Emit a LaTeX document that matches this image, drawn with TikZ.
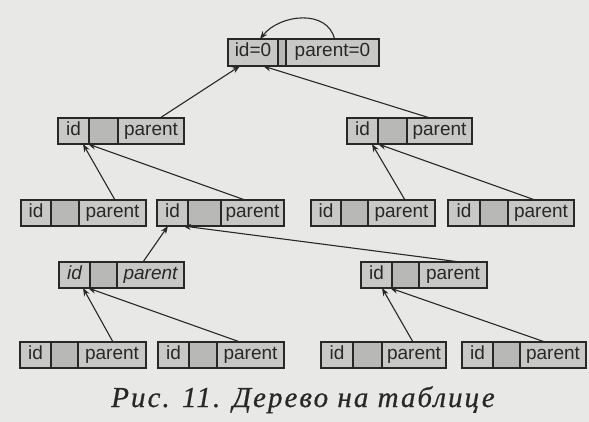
\documentclass[tikz,border=0pt]{standalone}
\usepackage{fontspec}
\setmainfont{Liberation Serif}
\newfontfamily\boxfont{Liberation Sans}
\usetikzlibrary{arrows.meta}
\definecolor{bgcol}{RGB}{232,232,230}
\definecolor{cellgrey}{RGB}{200,200,198}
\definecolor{midgrey}{RGB}{184,184,182}
\definecolor{inkcol}{RGB}{40,40,40}
\tikzset{
  cell/.style={draw=inkcol, line width=1.4pt, fill=cellgrey, inner sep=0pt, outer sep=0pt,
    text=inkcol, font=\boxfont\fontsize{19}{20}\selectfont, text height=13pt, text depth=4pt},
  conn/.style={draw=inkcol, line width=1.1pt, -{Stealth[length=8pt,width=6pt]}},
  loopconn/.style={draw=inkcol, line width=1.1pt, -{Stealth[length=8pt,width=6pt]}},
  captionstyle/.style={text=inkcol, anchor=base, inner sep=0pt,
    font=\fontsize{29}{32}\selectfont\itshape\addfontfeature{LetterSpace=7,FakeBold=0.6}}
}
% #1 name, #2 left, #3 top, #4 d1, #5 d2, #6 right, #7 bottom, #8 id text, #9 parent text
\newcommand\recbox[9]{%
  \node[cell, anchor=north west, minimum width={(#4-#2)*1pt}, minimum height={(#7-#3)*1pt}] (#1-id) at (#2,#3) {#8};
  \node[cell, fill=midgrey, anchor=north west, minimum width={(#5-#4)*1pt}, minimum height={(#7-#3)*1pt}] (#1-mid) at (#4,#3) {};
  \node[cell, anchor=north west, minimum width={(#6-#5)*1pt}, minimum height={(#7-#3)*1pt}] (#1-par) at (#5,#3) {#9};
}
\begin{document}
\begin{tikzpicture}[x=1pt,y=-1pt]
\fill[bgcol] (0,0) rectangle (589,422);
\useasboundingbox (0,0) rectangle (589,422);

\recbox{top}{228}{39}{278}{286}{379}{66}{id=0}{parent=0}
\recbox{La}{58}{118}{89}{118}{184}{144}{id}{parent}
\recbox{Lb}{347}{118}{378}{407}{472}{144}{id}{parent}
\recbox{Ma}{21}{200}{51}{79}{146}{226}{id}{parent}
\recbox{Mb}{157}{200}{188}{221}{284}{226}{id}{parent}
\recbox{Mc}{311}{200}{341}{368}{435}{226}{id}{parent}
\recbox{Md}{448}{200}{480}{508}{574}{226}{id}{parent}
\recbox{Na}{59}{262}{90}{117}{184}{288}{\itshape id}{\itshape parent}
\recbox{Nb}{361}{262}{392}{419}{487}{288}{id}{parent}
\recbox{Pa}{20}{342}{51}{78}{146}{368}{id}{parent}
\recbox{Pb}{158}{342}{189}{217}{284}{368}{id}{parent}
\recbox{Pc}{321}{342}{353}{382}{446}{368}{id}{parent}
\recbox{Pd}{462}{342}{493}{520}{586}{368}{id}{parent}

% self loop at root
\draw[loopconn] ([xshift=2pt]top-par.north) .. controls ([xshift=-5pt,yshift=30pt]top-par.north) and ([xshift=27pt,yshift=25pt]top-id.north) .. ([xshift=7pt]top-id.north);

% connectors child -> parent
\draw[conn] ([xshift=102pt]La-id.north west) -- ([xshift=12pt]top-id.south west);
\draw[conn] ([xshift=83pt]Lb-id.north west) -- ([xshift=35pt]top-id.south west);
\draw[conn] ([xshift=94pt]Ma-id.north west) -- ([xshift=25pt]La-id.south west);
\draw[conn] ([xshift=88pt]Mb-id.north west) -- ([xshift=30pt]La-id.south west);
\draw[conn] ([xshift=94pt]Mc-id.north west) -- ([xshift=25pt]Lb-id.south west);
\draw[conn] ([xshift=87pt]Md-id.north west) -- ([xshift=31pt]Lb-id.south west);
\draw[conn] ([xshift=84pt]Na-id.north west) -- ([xshift=11pt]Mb-id.south west);
\draw[conn] ([xshift=99pt]Nb-id.north west) -- ([xshift=26pt]Mb-id.south west);
\draw[conn] ([xshift=93pt]Pa-id.north west) -- ([xshift=24pt]Na-id.south west);
\draw[conn] ([xshift=82pt]Pb-id.north west) -- ([xshift=29pt]Na-id.south west);
\draw[conn] ([xshift=92pt]Pc-id.north west) -- ([xshift=21pt]Nb-id.south west);
\draw[conn] ([xshift=83pt]Pd-id.north west) -- ([xshift=29pt]Nb-id.south west);

\node[captionstyle] (caption) at (303,407) {Рис. 11. Дерево на таблице};
\end{tikzpicture}
\end{document}
